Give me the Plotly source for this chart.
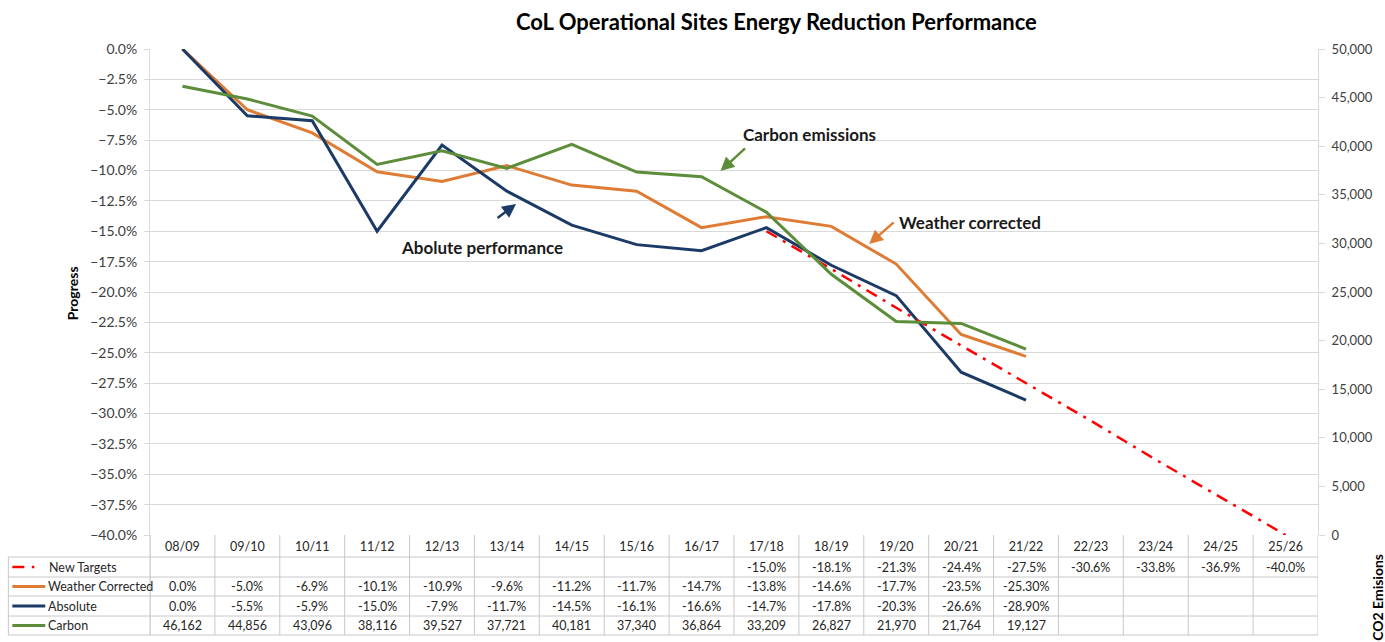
import plotly.graph_objects as go

categories = ["08/09", "09/10", "10/11", "11/12", "12/13", "13/14", "14/15", "15/16", "16/17",
              "17/18", "18/19", "19/20", "20/21", "21/22", "22/23", "23/24", "24/25", "25/26"]
weather_corrected = [0.0, -5.0, -6.9, -10.1, -10.9, -9.6, -11.2, -11.7, -14.7,
                     -13.8, -14.6, -17.7, -23.5, -25.3]
weather_decimals = [1, 1, 1, 1, 1, 1, 1, 1, 1, 1, 1, 1, 1, 2]
absolute = [0.0, -5.5, -5.9, -15.0, -7.9, -11.7, -14.5, -16.1, -16.6,
            -14.7, -17.8, -20.3, -26.6, -28.9]
absolute_decimals = [1, 1, 1, 1, 1, 1, 1, 1, 1, 1, 1, 1, 1, 2]
carbon = [46162, 44856, 43096, 38116, 39527, 37721, 40181, 37340, 36864,
          33209, 26827, 21970, 21764, 19127]
target_start = 9  # index of 17/18
new_targets = [-15.0, -18.1, -21.3, -24.4, -27.5, -30.6, -33.8, -36.9, -40.0]

ORANGE = "#DE7C35"
NAVY = "#1C3A66"
GREEN = "#5C8D3A"
RED = "#FF0000"
GRID = "#D9D9D9"
TBL = "#C8C8C8"
TXT = "#262626"
FONT = "Lato"

W, H = 1385, 642
L, R, T, B = 150, 1321, 49, 535


def px(xp):
    return (xp - L) / (R - L)


def py(yp):
    return (B - yp) / (B - T)


fig = go.Figure()
fig.add_trace(go.Scatter(x=categories[:len(weather_corrected)], y=weather_corrected,
                         mode="lines", name="Weather Corrected",
                         line=dict(color=ORANGE, width=3)))
fig.add_trace(go.Scatter(x=categories[:len(absolute)], y=absolute, mode="lines",
                         name="Absolute", line=dict(color=NAVY, width=3)))
fig.add_trace(go.Scatter(x=categories[:len(carbon)], y=carbon, mode="lines",
                         name="Carbon", yaxis="y2", line=dict(color=GREEN, width=3)))
fig.add_trace(go.Scatter(x=categories[target_start:target_start + len(new_targets)],
                         y=new_targets, mode="lines", name="New Targets",
                         line=dict(color=RED, width=2.5, dash="12px,7px,3px,7px")))

shapes = []
annotations = []


def text_ann(text, x, y, size, color, xref="paper", xanchor="center", angle=0):
    annotations.append(dict(text=text, xref=xref, yref="paper", x=x, y=y,
                            xanchor=xanchor, yanchor="middle", showarrow=False,
                            textangle=angle, font=dict(family=FONT, size=size, color=color)))


# Title and axis titles
text_ann("<b>CoL Operational Sites Energy Reduction Performance</b>", px(778), py(21), 22, "#000000")
text_ann("<b>Progress</b>", px(72), py(293), 14, "#000000", angle=-90)
text_ann("<b>CO2 Emisions</b>", px(1380), py(597), 14, "#000000", angle=-90)

# In-chart labels and arrows
labels = [("Abolute performance", 483, 248, NAVY, 517, 204, 497, 219),
          ("Carbon emissions", 811, 134, GREEN, 722, 171, 748, 147),
          ("Weather corrected", 972, 222, ORANGE, 871, 244, 897, 221)]
for text, tx, ty, col, hx, hy, sx, sy in labels:
    text_ann("<b>" + text + "</b>", px(tx), py(ty), 17, "#1a1a1a")
    annotations.append(dict(text="", xref="paper", yref="paper", x=px(hx), y=py(hy),
                            ax=sx - hx, ay=sy - hy, showarrow=True, arrowhead=2,
                            arrowsize=1.1, arrowwidth=2.5, arrowcolor=col))

# Data table grid
row_lines = [557, 577, 596, 616, 635]
for yl in row_lines:
    shapes.append(dict(type="line", xref="paper", yref="paper", x0=px(8), x1=px(R),
                       y0=py(yl), y1=py(yl), line=dict(color=TBL, width=1)))
shapes.append(dict(type="line", xref="paper", yref="paper", x0=px(8), x1=px(8),
                   y0=py(557), y1=py(635), line=dict(color=TBL, width=1)))
for k in range(len(categories) + 1):
    shapes.append(dict(type="line", xref="x", yref="paper", x0=k - 0.5, x1=k - 0.5,
                       y0=py(B), y1=py(635), line=dict(color=TBL, width=1)))

# Legend keys in table
row_y = {"targets": 567, "weather": 586.5, "absolute": 606, "carbon": 625.5}
shapes.append(dict(type="line", xref="paper", yref="paper", x0=px(12), x1=px(24),
                   y0=py(row_y["targets"]), y1=py(row_y["targets"]),
                   line=dict(color=RED, width=2.5)))
shapes.append(dict(type="line", xref="paper", yref="paper", x0=px(31.5), x1=px(34),
                   y0=py(row_y["targets"]), y1=py(row_y["targets"]),
                   line=dict(color=RED, width=2.5)))
for key, col in (("weather", ORANGE), ("absolute", NAVY), ("carbon", GREEN)):
    shapes.append(dict(type="line", xref="paper", yref="paper", x0=px(12), x1=px(45),
                       y0=py(row_y[key]), y1=py(row_y[key]), line=dict(color=col, width=3)))
row_names = [("targets", "New Targets"), ("weather", "Weather Corrected"),
             ("absolute", "Absolute"), ("carbon", "Carbon")]
for key, name in row_names:
    xs = 46 if key != "targets" else 47
    text_ann(name, px(xs), py(row_y[key]), 12.5, TXT, xanchor="left")


def cell(i, yk, text):
    text_ann(text, i, py(row_y[yk]), 12.5, TXT, xref="x")


for j, v in enumerate(new_targets):
    cell(target_start + j, "targets", f"{v:.1f}%")
for i, (v, d) in enumerate(zip(weather_corrected, weather_decimals)):
    cell(i, "weather", f"{v:.{d}f}%")
for i, (v, d) in enumerate(zip(absolute, absolute_decimals)):
    cell(i, "absolute", f"{v:.{d}f}%")
for i, v in enumerate(carbon):
    cell(i, "carbon", f"{v:,}")

# Extend axis lines through the table
shapes.append(dict(type="line", xref="paper", yref="paper", x0=0, x1=0, y0=py(B), y1=py(635),
                   line=dict(color=TBL, width=1)))

fig.update_layout(
    width=W, height=H,
    margin=dict(l=L, r=W - R, t=T, b=H - B),
    paper_bgcolor="white", plot_bgcolor="white",
    showlegend=False,
    font=dict(family=FONT, size=12, color="#595959"),
    xaxis=dict(type="category", categoryorder="array", categoryarray=categories,
               range=[-0.5, len(categories) - 0.5], showgrid=False, showline=False,
               zeroline=False, ticks="", tickfont=dict(family=FONT, size=12.5, color=TXT),
               ticklabelstandoff=2),
    yaxis=dict(range=[-40, 0], dtick=2.5, tickformat=".1f", ticksuffix="%",
               showgrid=True, gridcolor=GRID, gridwidth=1, zeroline=False,
               showline=True, linecolor=GRID, ticks="outside", ticklen=5, tickcolor=GRID,
               tickfont=dict(family=FONT, size=14, color="#404040"), ticklabelstandoff=4),
    yaxis2=dict(range=[0, 50000], dtick=5000, tickformat=",d", overlaying="y", side="right",
                showgrid=False, zeroline=False, showline=True, linecolor=GRID,
                ticks="outside", ticklen=6, tickcolor=GRID,
                tickfont=dict(family=FONT, size=13, color="#404040"), ticklabelstandoff=4),
    shapes=shapes,
    annotations=annotations,
)

fig.write_html("out.html", config={"displayModeBar": False},
               post_script="document.body.style.margin='0';document.body.style.overflow='hidden';")
